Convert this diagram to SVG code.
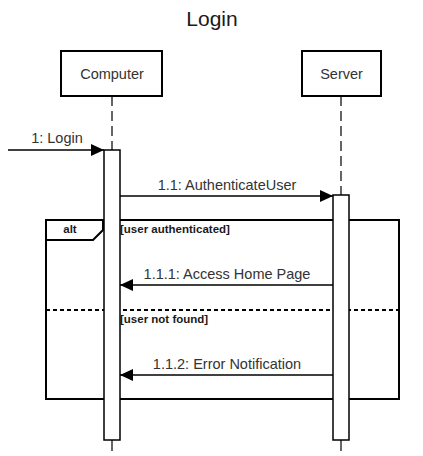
<svg xmlns="http://www.w3.org/2000/svg" width="423" height="456" viewBox="0 0 423 456">
<defs>
<style>
text{font-family:"Liberation Sans",Arial,sans-serif;fill:#1a1a1a}
.lbl{font-size:14.5px;text-anchor:middle;fill:#333}
.box{fill:#fff;stroke:#000;stroke-width:2}
.act{fill:#fff;stroke:#000;stroke-width:1.5}
.life{stroke:#333;stroke-width:1.5;stroke-dasharray:10,5;fill:none}
.msg{stroke:#000;stroke-width:1.3;fill:none}
.grd{font-size:11.5px;font-weight:bold}
</style>
<marker id="ah" markerWidth="13" markerHeight="12" viewBox="0 0 13 12" refX="13" refY="6" orient="auto" markerUnits="userSpaceOnUse">
<path d="M0,0 L13,6 L0,12 Z" fill="#000"/>
</marker>
</defs>
<rect width="423" height="456" fill="#fff"/>
<text x="212" y="26" style="font-size:21px;text-anchor:middle;fill:#1a1a1a">Login</text>

<g id="computer">
<line class="life" x1="112" y1="96" x2="112" y2="150"/>
<line x1="112" y1="440" x2="112" y2="451" stroke="#333" stroke-width="1.5"/>
<rect class="box" x="61" y="51" width="101" height="45"/>
<text class="lbl" x="112" y="79">Computer</text>
</g>
<g id="server">
<line class="life" x1="341" y1="96" x2="341" y2="195"/>
<line x1="341" y1="440" x2="341" y2="451" stroke="#333" stroke-width="1.5"/>
<rect class="box" x="302" y="51" width="79" height="45"/>
<text class="lbl" x="341.5" y="79">Server</text>
</g>

<g id="alt-frame">
<rect x="46" y="220" width="353" height="179" fill="none" stroke="#000" stroke-width="2"/>
<path d="M46,220 L103,220 L103,230 L93,240 L46,240" fill="none" stroke="#000" stroke-width="2"/>
<text class="grd" x="70" y="233" text-anchor="middle">alt</text>
<text class="grd" x="120" y="233">[user authenticated]</text>
<line x1="46" y1="310" x2="399" y2="310" stroke="#000" stroke-width="2" stroke-dasharray="4,3"/>
<text class="grd" x="120" y="323">[user not found]</text>
</g>

<g id="computer-activation">
<rect class="act" x="104" y="150" width="16" height="290"/>
</g>
<g id="server-activation">
<rect class="act" x="333" y="195" width="16" height="245"/>
</g>

<g id="connectors">
<line class="msg" x1="8" y1="150" x2="104" y2="150" marker-end="url(#ah)"/>
<text class="lbl" x="57" y="143">1: Login</text>
<line class="msg" x1="120" y1="196" x2="333" y2="196" marker-end="url(#ah)"/>
<text class="lbl" x="227" y="190">1.1: AuthenticateUser</text>
<line class="msg" x1="333" y1="285" x2="120" y2="285" marker-end="url(#ah)"/>
<text class="lbl" x="227" y="279">1.1.1: Access Home Page</text>
<line class="msg" x1="333" y1="375" x2="120" y2="375" marker-end="url(#ah)"/>
<text class="lbl" x="227" y="369">1.1.2: Error Notification</text>
</g>
</svg>
